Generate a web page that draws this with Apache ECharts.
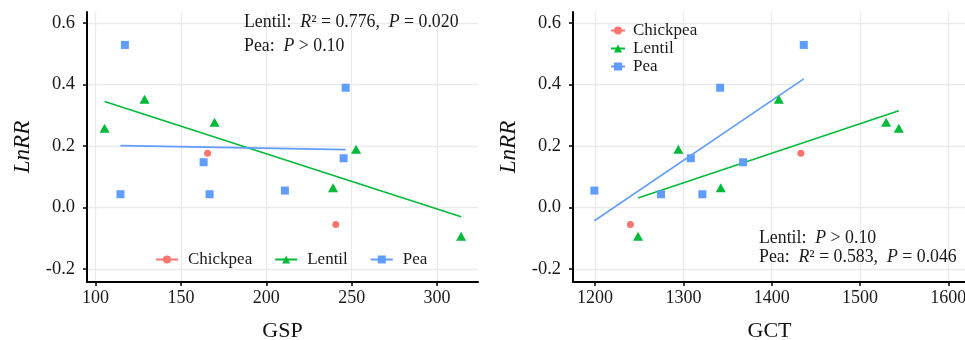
<!DOCTYPE html>
<html>
<head>
<meta charset="utf-8">
<script src="https://cdn.jsdelivr.net/npm/echarts@6/dist/echarts.min.js"></script>
<style>
html,body{margin:0;padding:0;background:#fff;}
#chart{width:965px;height:340px;}
</style>
</head>
<body>
<div id="chart"></div>
<script>
// ---- Data ----
const seriesNames = ['Chickpea', 'Lentil', 'Pea'];
const seriesColors = ['#F8766D', '#00BA38', '#619CFF'];

// Left panel: GSP vs LnRR
const gspChickpea = [[165.6, 0.176], [240.7, -0.055]];
const gspLentil = [[105.3, 0.257], [128.7, 0.352], [169.7, 0.277], [239.1, 0.064], [252.6, 0.189], [314.1, -0.093]];
const gspPea = [[117.2, 0.528], [114.6, 0.043], [163.3, 0.147], [166.8, 0.043], [210.9, 0.055], [246.5, 0.389], [245.3, 0.160]];
const gspLentilFit = [[105.3, 0.344], [314.1, -0.030]];
const gspPeaFit = [[114.6, 0.201], [246.5, 0.188]];

// Right panel: GCT vs LnRR
const gctChickpea = [[1433, 0.176], [1240, -0.055]];
const gctLentil = [[1408, 0.352], [1294.3, 0.189], [1342.3, 0.064], [1529.6, 0.277], [1543.9, 0.257], [1248.7, -0.093]];
const gctPea = [[1436.3, 0.528], [1341.6, 0.389], [1308.4, 0.160], [1367.6, 0.147], [1199.2, 0.055], [1274.7, 0.043], [1321.5, 0.043]];
const gctLentilFit = [[1248.7, 0.031], [1543.9, 0.314]];
const gctPeaFit = [[1199.2, -0.043], [1436.3, 0.418]];

// Tick labels
const yTicks = [-0.2, 0.0, 0.2, 0.4, 0.6];
const gspTicks = [100, 150, 200, 250, 300];
const gctTicks = [1200, 1300, 1400, 1500, 1600];

// Annotation texts
const leftNote1 = ['Lentil:  ', 'R', '\u00B2 = 0.776,  ', 'P', ' = 0.020'];
const leftNote2 = ['Pea:  ', 'P', ' > 0.10'];
const rightNote1 = ['Lentil:  ', 'P', ' > 0.10'];
const rightNote2 = ['Pea:  ', 'R', '\u00B2 = 0.583,  ', 'P', ' = 0.046'];

// ---- Chart ----
const FONT = '"Liberation Serif", "Times New Roman", serif';
const chart = echarts.init(document.getElementById('chart'), null, {renderer: 'canvas'});

const symbols = {Chickpea: ['circle', 7], Lentil: ['triangle', [10, 9]], Pea: ['rect', 8]};
const colorOf = {Chickpea: seriesColors[0], Lentil: seriesColors[1], Pea: seriesColors[2]};

function pointSeries(name, data, idx) {
  return {
    type: 'line', name: name, data: data,
    xAxisIndex: idx, yAxisIndex: idx,
    symbol: symbols[name][0], symbolSize: symbols[name][1],
    showSymbol: true, showAllSymbol: true,
    itemStyle: {color: colorOf[name], opacity: 1},
    lineStyle: {color: colorOf[name], width: 0, opacity: 0},
    emphasis: {disabled: true}, z: 5, animation: false
  };
}
function fitSeries(name, data, idx) {
  return {
    type: 'line', name: name + ' fit', data: data,
    xAxisIndex: idx, yAxisIndex: idx,
    symbol: 'none', showSymbol: false,
    lineStyle: {color: colorOf[name], width: 1.6},
    emphasis: {disabled: true}, z: 3, animation: false
  };
}
function rich(parts) {
  let s = '';
  parts.forEach((p) => {
    const italic = (p === 'R' || p === 'P');
    s += '{' + (italic ? 'i' : 'n') + '|' + p + '}';
  });
  return s;
}
const NOTE_SIZE = 17.8;
const richStyles = {
  n: {fontFamily: FONT, fontSize: NOTE_SIZE, fill: '#1a1a1a'},
  i: {fontFamily: FONT, fontSize: NOTE_SIZE, fontStyle: 'italic', fill: '#1a1a1a'}
};
function note(parts, x, y) {
  return {
    type: 'text', left: x, top: y, z: 10,
    style: {text: rich(parts), rich: richStyles, fontFamily: FONT, fontSize: NOTE_SIZE}
  };
}

function xAxisCfg(idx, min, max, ticks, name) {
  return {
    type: 'value', gridIndex: idx, min: min, max: max,
    name: name, nameLocation: 'middle', nameGap: 38,
    nameTextStyle: {fontFamily: FONT, fontSize: 22, color: '#111'},
    axisLine: {show: true, onZero: false, lineStyle: {color: '#000', width: 2}},
    axisTick: {show: true, length: 4, customValues: ticks, lineStyle: {color: '#000', width: 1.5}},
    axisLabel: {customValues: ticks, fontFamily: FONT, fontSize: 18, color: '#1a1a1a', margin: 7,
      formatter: v => String(v)},
    splitLine: {show: true, lineStyle: {color: '#ebebeb', width: 1.3}}
  };
}
function yAxisCfg(idx) {
  return {
    type: 'value', gridIndex: idx, min: -0.242, max: 0.635,
    name: 'LnRR', nameLocation: 'middle', nameGap: 53, nameRotate: 90,
    nameTextStyle: {fontFamily: FONT, fontSize: 23, fontStyle: 'italic', color: '#111'},
    axisLine: {show: true, onZero: false, lineStyle: {color: '#000', width: 2}},
    axisTick: {show: true, length: 4, customValues: yTicks, lineStyle: {color: '#000', width: 1.5}},
    axisLabel: {customValues: yTicks, fontFamily: FONT, fontSize: 18.5, color: '#1a1a1a', margin: 12,
      formatter: v => (Math.abs(v) < 1e-9 ? 0 : v).toFixed(1)},
    splitLine: {show: true, lineStyle: {color: '#ebebeb', width: 1.3}}
  };
}

const option = {
  backgroundColor: '#fff',
  animation: false,
  grid: [
    {left: 87, top: 12, width: 391, height: 270, outerBoundsMode: 'none', containLabel: false},
    {left: 573, top: 12, width: 393, height: 270, outerBoundsMode: 'none', containLabel: false}
  ],
  xAxis: [xAxisCfg(0, 95, 324, gspTicks, 'GSP'), xAxisCfg(1, 1175, 1620, gctTicks, 'GCT')],
  yAxis: [yAxisCfg(0), yAxisCfg(1)],
  legend: [
    {
      data: seriesNames, orient: 'horizontal', left: 150, top: 246,
      itemWidth: 22, itemHeight: 10, itemGap: 22, selectedMode: false,
      textStyle: {fontFamily: FONT, fontSize: 17, color: '#1a1a1a', padding: [0, 0, 0, 5]},
      lineStyle: {width: 2, opacity: 1}
    },
    {
      data: seriesNames, orient: 'vertical', left: 605, top: 17,
      itemWidth: 14, itemHeight: 10, itemGap: 1, selectedMode: false,
      textStyle: {fontFamily: FONT, fontSize: 17, color: '#1a1a1a', padding: [0, 0, 0, 3]},
      lineStyle: {width: 2, opacity: 1}
    }
  ],
  graphic: [
    note(leftNote1, 244, 13),
    note(leftNote2, 244, 37),
    note(rightNote1, 759, 229),
    note(rightNote2, 759, 248)
  ],
  series: [
    fitSeries('Lentil', gspLentilFit, 0),
    fitSeries('Pea', gspPeaFit, 0),
    pointSeries('Chickpea', gspChickpea, 0),
    pointSeries('Lentil', gspLentil, 0),
    pointSeries('Pea', gspPea, 0),
    fitSeries('Lentil', gctLentilFit, 1),
    fitSeries('Pea', gctPeaFit, 1),
    pointSeries('Chickpea', gctChickpea, 1),
    pointSeries('Lentil', gctLentil, 1),
    pointSeries('Pea', gctPea, 1)
  ]
};
chart.setOption(option);
</script>
</body>
</html>
